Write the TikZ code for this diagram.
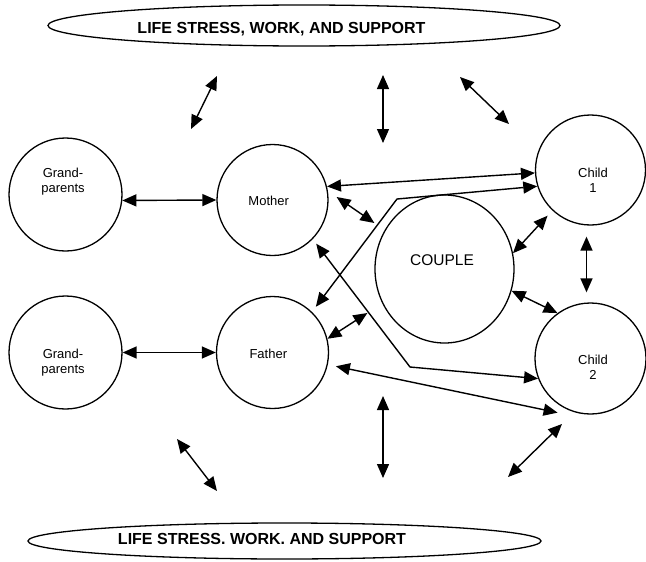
\documentclass[tikz,border=0pt]{standalone}
\usepackage{fontspec}
\setmainfont{Liberation Sans}
\usetikzlibrary{arrows.meta,shapes.geometric}

\begin{document}
\begin{tikzpicture}[x=1pt,y=-1pt,
  person/.style={circle,draw,line width=1.3pt,inner sep=0pt,minimum size=111pt},
  world/.style={ellipse,draw,line width=1.3pt,inner sep=0pt},
  tag/.style={font=\fontsize{13}{15}\selectfont,align=center,anchor=base},
  title/.style={font=\bfseries\fontsize{16}{19}\selectfont,anchor=base},
  link/.style={line width=1.4pt,{Triangle[length=14pt,width=12pt]}-{Triangle[length=14pt,width=12pt]}}]

\useasboundingbox (0,0) rectangle (646,562);

% Outside world - top and bottom
\node[world,minimum width=512pt,minimum height=41pt] (topworld) at (304,25.5) {};
\node[title] (toptitle) at (281.5,33.5) {LIFE STRESS, WORK, AND SUPPORT};
\node[world,minimum width=513pt,minimum height=36pt] (botworld) at (284.5,541) {};
\node[title] (bottitle) at (262,544.3) {LIFE STRESS. WORK. AND SUPPORT};

% Family members
\node[person,minimum size=113pt] (gpA) at (65.5,194.5) {};
\node[person,minimum size=113pt] (gpB) at (65.5,352.5) {};
\node[person] (mother) at (272.5,200) {};
\node[person,minimum size=112pt] (father) at (272.5,352.5) {};
\node[ellipse,draw,line width=1.3pt,inner sep=0pt,minimum width=139pt,minimum height=148pt] (couple) at (444.5,269) {};
\node[person,minimum size=110pt] (child1) at (590.5,170) {};
\node[person] (child2) at (590.5,358.5) {};

% Labels (base = last line)
\node[tag] (gpAtext) at (63,192) {Grand-\\parents};
\node[tag] (gpBtext) at (63,373.7) {Grand-\\parents};
\node[tag] (mothertext) at (268.7,205.7) {Mother};
\node[tag] (fathertext) at (268.3,358.7) {Father};
\node[tag] (child1text) at (593,192.3) {Child\\1};
\node[tag] (child2text) at (593,379.3) {Child\\2};
\node[tag,font=\fontsize{15.5}{18}\selectfont] (coupletext) at (442,265.7) {COUPLE};

% Family ties
\coordinate (bendA) at (397,199);
\coordinate (bendB) at (410,367);
\draw[link] (gpA.-6) -- (mother.west);
\draw[link] (gpB.east) -- (father.west);
\draw[link] (mother.14) -- (child1.183);
\draw[link] ([shift={(8,-3)}]mother.east) -- ([shift={(0,-46)}]couple.west);
\draw[link] ([shift={(4,-5)}]father.46) -- (bendA) -- (child1.197);
\draw[link] ([shift={(4,4)}]mother.-45) -- (bendB) -- (child2.201);
\draw[link] (couple.13) -- ([shift={(-5,5)}]child1.227);
\draw[link] ([shift={(-4,11)}]child1.south) -- ([shift={(-4,-10)}]child2.north);
\draw[link] (couple.-18) -- (child2.126);
\draw[link] (father.14) -- ([shift={(-7,44)}]couple.west);
\draw[link] ([shift={(8,2)}]father.-12) -- ([shift={(-4,6)}]child2.239);

% Ties to the outside world
\coordinate (wA1) at (217,76);  \coordinate (wA2) at (191,129);
\coordinate (wB1) at (383,75);  \coordinate (wB2) at (383,143);
\coordinate (wC1) at (460,77);  \coordinate (wC2) at (509,124);
\coordinate (wD1) at (177,439); \coordinate (wD2) at (217,491);
\coordinate (wE1) at (383,396); \coordinate (wE2) at (383,478);
\coordinate (wF1) at (562,424); \coordinate (wF2) at (508,477);
\draw[link] (wA1) -- (wA2);
\draw[link] (wB1) -- (wB2);
\draw[link] (wC1) -- (wC2);
\draw[link] (wD1) -- (wD2);
\draw[link] (wE1) -- (wE2);
\draw[link] (wF1) -- (wF2);
\end{tikzpicture}
\end{document}
